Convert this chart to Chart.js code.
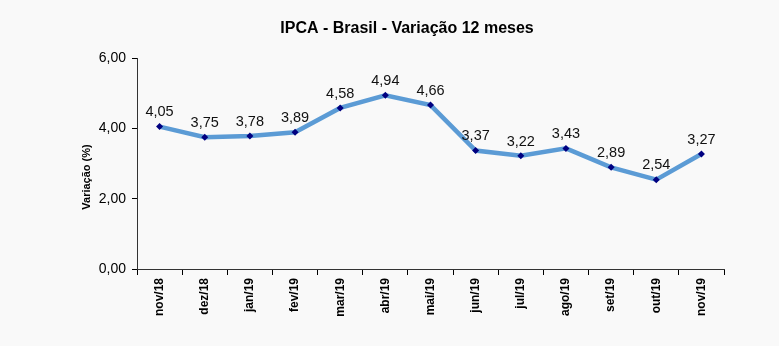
<!DOCTYPE html>
<html>
<head>
<meta charset="utf-8">
<script src="https://cdn.jsdelivr.net/npm/chart.js@4"></script>
<style>
  html, body { margin: 0; padding: 0; background: #f9f9f9; }
  #wrap { width: 779px; height: 346px; }
</style>
</head>
<body>
<div id="wrap"><canvas id="chart" width="779" height="346"></canvas></div>
<script>
// ── data ─────────────────────────────────────────────────────────────────────
const TITLE   = "IPCA - Brasil - Variação 12 meses";
const Y_TITLE = "Variação (%)";
const months  = ["nov/18", "dez/18", "jan/19", "fev/19", "mar/19", "abr/19", "mai/19",
                 "jun/19", "jul/19", "ago/19", "set/19", "out/19", "nov/19"];
const ipca    = [4.05, 3.75, 3.78, 3.89, 4.58, 4.94, 4.66, 3.37, 3.22, 3.43, 2.89, 2.54, 3.27];
const yTicks  = [0, 2, 4, 6];

const FONT = "'Liberation Sans', Arial, sans-serif";
const fmt  = (v) => v.toFixed(2).replace(".", ",");

// ── plugins: titles + point labels ───────────────────────────────────────────
const titlePlugin = {
    id: "fixedTitles",
    afterDraw(chart) {
        const ctx = chart.ctx;
        ctx.save();
        ctx.fillStyle = "#000";
        ctx.textAlign = "center";
        ctx.textBaseline = "middle";
        ctx.font = `bold 16px ${FONT}`;
        ctx.fillText(TITLE, 407, 29);
        // y axis title, rotated
        ctx.translate(87, 177);
        ctx.rotate(-Math.PI / 2);
        ctx.font = `bold 11px ${FONT}`;
        ctx.fillText(Y_TITLE, 0, 0);
        ctx.restore();
    },
};

const valueLabels = {
    id: "valueLabels",
    afterDatasetsDraw(chart) {
        const ctx  = chart.ctx;
        const meta = chart.getDatasetMeta(0);
        ctx.save();
        ctx.font = `14.5px ${FONT}`;
        ctx.fillStyle = "#111";
        ctx.textAlign = "center";
        ctx.textBaseline = "bottom";
        meta.data.forEach((pt, i) => ctx.fillText(fmt(ipca[i]), pt.x, pt.y - 7));
        ctx.restore();
    },
};

// ── chart ────────────────────────────────────────────────────────────────────
new Chart(document.getElementById("chart").getContext("2d"), {
    type: "line",
    data: {
        labels: months,
        datasets: [{
            data: ipca,
            borderColor: "#5b9bd5",
            borderWidth: 4.5,
            pointStyle: "rectRot",
            pointRadius: 3.5,
            pointBackgroundColor: "#000080",
            pointBorderColor: "#000080",
            pointBorderWidth: 0,
            tension: 0,
        }],
    },
    options: {
        responsive: false,
        animation: false,
        layout: { padding: { top: 58, right: 55, bottom: 0, left: 81 } },
        plugins: { legend: { display: false }, tooltip: { enabled: false }, title: { display: false } },
        scales: {
            x: {
                offset: true,
                grid: { offset: true, drawOnChartArea: false, color: "#000", tickLength: 6 },
                border: { color: "#333", width: 1 },
                ticks: {
                    minRotation: 90, maxRotation: 90, padding: 3,
                    color: "#000",
                    font: { family: FONT, size: 12, weight: "bold" },
                },
                afterFit: (s) => { s.height = 77; },
            },
            y: {
                min: 0, max: 6,
                afterBuildTicks: (s) => { s.ticks = yTicks.map((v) => ({ value: v })); },
                grid: { drawOnChartArea: false, color: "#000", tickLength: 5 },
                border: { color: "#333", width: 1 },
                ticks: {
                    padding: 6,
                    color: "#000",
                    font: { family: FONT, size: 14 },
                    callback: (v) => fmt(v),
                },
                afterFit: (s) => { s.width = 56; },
            },
        },
    },
    plugins: [titlePlugin, valueLabels],
});
</script>
</body>
</html>
